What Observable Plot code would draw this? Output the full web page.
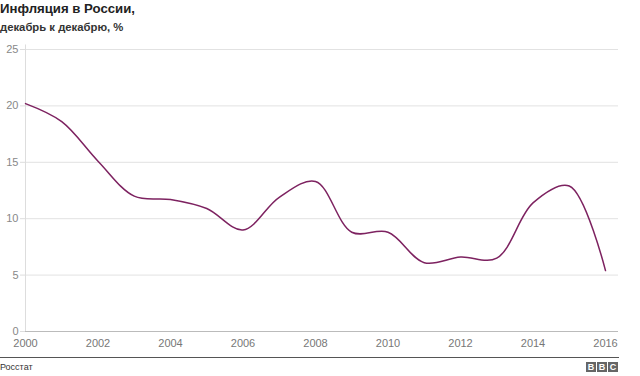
<!DOCTYPE html>
<html>
<head>
<meta charset="utf-8">
<script src="https://cdn.jsdelivr.net/npm/d3@7"></script>
<script src="https://cdn.jsdelivr.net/npm/@observablehq/plot@0.6"></script>
<style>
  html, body { margin: 0; padding: 0; background: #fff; width: 640px; height: 376px; overflow: hidden; position: relative; font-family: "Liberation Sans", Arial, sans-serif; }
  #title { position: absolute; left: 0; top: 1px; font-size: 13.2px; font-weight: bold; color: #222; line-height: 16px; }
  #subtitle { position: absolute; left: 0; top: 20px; font-size: 11.3px; font-weight: bold; color: #333; line-height: 14px; }
  #chart { position: absolute; left: 0; top: 40px; }
  #footer { position: absolute; left: 0; top: 357px; width: 619px; border-top: 1px solid #555; }
  #source { position: absolute; left: 0; top: 362px; font-size: 9px; color: #333; line-height: 11px; }
  #bbc { position: absolute; left: 586px; top: 362px; display: flex; gap: 1px; }
  #bbc span { display: block; width: 10px; height: 10px; background: #666; color: #fff; font-size: 9px; font-weight: bold; line-height: 10px; text-align: center; }
</style>
</head>
<body>
<div id="title">Инфляция в России,</div>
<div id="subtitle">декабрь к декабрю, %</div>
<div id="chart"></div>
<div id="footer"></div>
<div id="source">Росстат</div>
<div id="bbc"><span>B</span><span>B</span><span>C</span></div>
<script>
const years = [2000, 2001, 2002, 2003, 2004, 2005, 2006, 2007, 2008, 2009, 2010, 2011, 2012, 2013, 2014, 2015, 2016];
const inflation = [20.2, 18.6, 15.1, 12.0, 11.7, 10.9, 9.0, 11.9, 13.3, 8.8, 8.8, 6.1, 6.6, 6.5, 11.4, 12.9, 5.4];
const xTicks = [2000, 2002, 2004, 2006, 2008, 2010, 2012, 2014, 2016];
const yTicks = [0, 5, 10, 15, 20, 25];

const data = years.map((y, i) => ({year: y, value: inflation[i]}));

const chart = Plot.plot({
  width: 640,
  height: 315,
  marginTop: 9,
  marginBottom: 24,
  marginLeft: 25,
  marginRight: 22,
  style: {fontFamily: "'Liberation Sans', Arial, sans-serif", fontSize: "11px", color: "#888", background: "transparent"},
  x: {domain: [2000, 2016 + 13 / 36.25], ticks: xTicks, tickFormat: d => String(d), tickSize: 0, tickPadding: 8, label: null},
  y: {domain: [0, 25], ticks: yTicks, tickSize: 5, tickPadding: 2, label: null},
  marks: [
    Plot.gridY(yTicks.filter(d => d > 0), {stroke: "#e2e2e2", strokeOpacity: 1, strokeWidth: 1}),
    Plot.ruleX([2000], {stroke: "#ddd", y1: 0, y2: 25.4}),
    Plot.ruleY([0], {stroke: "#bbb"}),
    Plot.axisY({ticks: yTicks, tickSize: 5, tickPadding: 2, stroke: "#ddd", color: "#888"}),
    Plot.axisX({ticks: xTicks, tickFormat: d => String(d), tickSize: 0, tickPadding: 8, color: "#777"}),
    Plot.line(data, {x: "year", y: "value", curve: "catmull-rom", stroke: "#7d2260", strokeWidth: 1.5})
  ]
});
document.getElementById("chart").appendChild(chart);
</script>
</body>
</html>
